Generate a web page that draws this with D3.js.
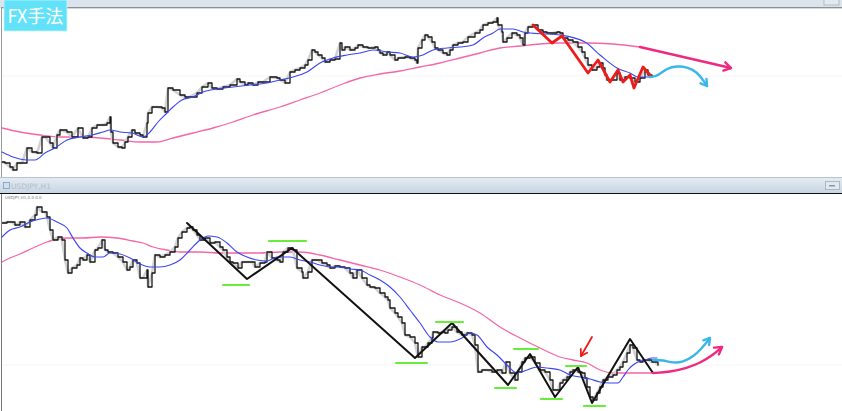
<!DOCTYPE html>
<html><head><meta charset="utf-8">
<script src="https://cdn.jsdelivr.net/npm/d3@7"></script>
<style>html,body{margin:0;padding:0;background:#fff;}svg{display:block;}</style>
</head><body>
<script>
// ===== DATA (x = bar index, value = price units) =====
const topPrice = [[2,38],[5,37],[10,33],[13,30],[17,37],[22,37],[27,52],[32,48],[37,47],[42,63],[45,63],[50,57],[53,52],[57,65],[60,70],[67,68],[72,63],[78,72],[83,62],[88,63],[92,72],[97,75],[103,75],[107,77],[110,83],[111,68],[113,57],[118,53],[122,52],[125,58],[128,63],[132,70],[135,67],[140,65],[143,63],[147,77],[148,87],[152,93],[157,93],[162,92],[165,88],[168,112],[173,110],[180,105],[185,103],[190,103],[197,107],[202,113],[208,117],[212,112],[217,111],[223,113],[230,115],[237,121],[240,118],[245,115],[248,117],[253,115],[258,118],[263,118],[270,123],[277,122],[280,120],[285,117],[290,128],[295,130],[300,132],[305,135],[308,140],[312,150],[315,148],[318,145],[322,142],[325,138],[330,140],[335,141],[340,157],[342,150],[345,153],[350,150],[355,152],[358,155],[363,153],[368,152],[375,153],[378,150],[380,147],[383,145],[387,148],[390,145],[395,140],[398,142],[405,143],[410,142],[415,140],[417,137],[418,152],[422,160],[425,165],[428,163],[432,158],[435,152],[438,150],[443,147],[447,145],[450,150],[453,155],[458,157],[463,158],[468,163],[475,167],[480,170],[483,175],[488,177],[493,178],[497,182],[498,175],[502,168],[503,158],[507,162],[512,167],[517,165],[520,162],[523,155],[525,167],[528,173],[533,175],[538,170],[543,168],[547,167],[552,167],[557,168],[560,167],[563,162],[568,160],[573,158],[578,153],[582,148],[585,142],[588,135],[592,130],[597,133],[600,137],[603,132],[605,125],[607,120],[612,120],[617,127],[620,120],[625,123],[630,122],[635,118],[640,122],[645,130],[648,125],[652,123]];
const topMaFast = [[2,48],[13,43],[27,40],[35,40],[45,47],[55,52],[67,60],[80,63],[92,65],[103,68],[110,70],[120,68],[132,67],[143,63],[150,68],[158,78],[167,87],[173,93],[182,100],[193,103],[203,108],[217,111],[233,113],[250,115],[267,117],[280,120],[293,123],[307,128],[320,137],[333,142],[347,145],[360,147],[373,150],[387,148],[400,147],[413,143],[423,145],[433,150],[447,152],[460,153],[473,155],[483,162],[493,167],[500,171],[513,171],[523,168],[530,167],[547,166],[560,165],[585,158],[600,145],[617,132],[630,127],[638,123],[650,123]];
const topMaSlow = [[2,72],[20,68],[40,65],[60,63],[80,63],[100,62],[120,60],[140,58],[157,58],[173,62],[193,67],[213,72],[233,78],[253,85],[280,93],[300,100],[320,107],[340,115],[360,122],[380,126],[400,129],[420,133],[440,137],[460,142],[480,147],[500,152],[520,154],[540,156],[560,157],[587,157],[613,156],[640,153]];
const topTrendArrow = [[640,153],[731,132]];
const topForecast = [[650,123],[658,124],[667,132],[677,134],[687,133],[697,128],[703,120],[707,114]];
const topZigzag = [[533,175],[552,157],[562,164],[588,127],[598,140],[610,118],[618,130],[623,118],[630,125],[634,112],[643,133],[650,125]];

const botPrice = [[2,197],[7,198],[12,198],[15,195],[20,198],[25,193],[30,200],[35,205],[37,213],[42,208],[45,208],[47,203],[50,190],[53,180],[58,183],[62,180],[65,160],[68,147],[72,152],[77,155],[80,162],[83,160],[87,165],[90,158],[95,170],[98,172],[102,180],[105,170],[108,168],[113,167],[118,163],[123,158],[127,150],[130,153],[133,160],[137,157],[140,142],[143,142],[147,150],[148,133],[152,147],[155,165],[160,163],[165,165],[170,168],[175,173],[178,182],[182,188],[187,192],[190,193],[193,190],[197,185],[200,180],[205,182],[210,177],[215,178],[220,173],[223,170],[227,163],[230,158],[233,157],[238,152],[242,158],[247,158],[252,158],[255,153],[260,157],[265,158],[267,168],[272,162],[277,160],[280,158],[283,168],[288,172],[293,170],[297,152],[302,148],[303,142],[308,148],[312,160],[317,160],[322,157],[327,155],[330,152],[335,154],[340,153],[345,152],[350,147],[353,142],[357,150],[362,142],[367,135],[370,133],[375,132],[380,127],[385,123],[388,120],[390,112],[395,107],[398,103],[402,97],[405,85],[410,83],[415,77],[418,63],[422,73],[425,73],[428,77],[432,82],[433,88],[438,87],[442,88],[445,87],[448,90],[452,93],[457,88],[462,85],[467,87],[472,85],[475,75],[478,48],[482,50],[487,50],[492,48],[497,50],[502,47],[506,58],[510,47],[515,40],[518,48],[522,58],[525,62],[530,63],[535,57],[540,50],[545,48],[550,40],[553,30],[558,30],[560,37],[563,40],[567,43],[570,48],[573,50],[578,48],[582,47],[585,42],[587,33],[590,23],[593,20],[597,27],[600,33],[603,40],[608,43],[613,45],[617,50],[620,53],[623,58],[627,67],[630,75],[633,72],[637,60],[640,58],[643,60],[648,60],[652,58],[655,58],[658,55]];
const botMaFast = [[2,183],[10,190],[20,193],[30,198],[40,201],[47,202],[57,198],[67,192],[73,182],[80,172],[87,167],[95,163],[103,163],[110,167],[120,166],[130,162],[140,156],[150,153],[160,153],[170,155],[180,160],[190,170],[200,180],[208,184],[217,183],[227,177],[237,168],[247,163],[257,160],[267,159],[277,163],[290,163],[300,160],[310,158],[320,155],[330,153],[340,153],[350,151],[360,150],[370,145],[380,140],[390,133],[400,123],[410,110],[420,97],[430,83],[438,78],[450,78],[462,82],[470,87],[477,85],[487,73],[497,65],[507,55],[517,47],[527,50],[537,53],[547,52],[560,50],[570,45],[580,43],[590,41],[600,38],[610,37],[618,37],[623,43],[628,50],[633,55],[638,58],[645,60],[652,62],[657,62]];
const botMaSlow = [[2,158],[10,162],[20,166],[33,172],[47,178],[57,181],[67,182],[83,182],[100,183],[117,182],[133,179],[143,177],[153,173],[167,170],[180,168],[200,168],[220,167],[240,167],[260,167],[280,168],[300,168],[320,165],[340,160],[360,155],[380,150],[400,143],[420,135],[440,125],[460,117],[480,107],[500,93],[520,82],[540,72],[560,63],[573,60],[587,57],[600,50],[613,47],[627,47],[640,47],[653,47]];
const botTrendArrow = [[653,47],[670,48],[687,52],[700,57],[713,65],[722,73]];
const botForecast = [[653,60],[663,60],[673,57],[683,58],[693,63],[702,72],[707,78],[710,82]];
const botZigzag = [[187,197],[247,141],[292,172],[415,62],[452,97],[508,35],[530,66],[555,23],[578,53],[592,17],[630,81],[653,47]];
const botLevels = [[223,249,135],[269,306,179],[396,427,57],[436,463,98],[495,516,32],[514,538,71],[541,562,21],[566,586,54],[584,605,14]];
const botSignal = [[592,83],[581,64]];
const symbol = "USDJPY,H1";
const badge = "FX手法";

// ===== LAYOUT =====
const W = 842, H = 411;
const svg = d3.select("body").append("svg").attr("width", W).attr("height", H);
const defs = svg.append("defs");
const g1 = defs.append("linearGradient").attr("id","bar").attr("x1",0).attr("x2",0).attr("y1",0).attr("y2",1);
g1.append("stop").attr("offset","0%").attr("stop-color","#e6ecf3");
g1.append("stop").attr("offset","100%").attr("stop-color","#c9d5e3");

const x = d3.scaleLinear().domain([0, W]).range([0, W]);
const yTop = d3.scaleLinear().domain([23, 193]).range([177, 7]);
const yBot = d3.scaleLinear().domain([9, 226]).range([411, 194]);

// chrome
svg.append("rect").attr("x",0).attr("y",0).attr("width",W).attr("height",8).attr("fill","#dbe3ec");
svg.append("rect").attr("x",824).attr("y",-2).attr("width",15).attr("height",7).attr("fill","#e4e9ef").attr("stroke","#a7b1bd").attr("stroke-width",0.8);
svg.append("line").attr("x1",2).attr("x2",W).attr("y1",7.5).attr("y2",7.5).attr("stroke","#8f8f8f");
svg.append("line").attr("x1",2).attr("x2",W).attr("y1",8.5).attr("y2",8.5).attr("stroke","#d8d8d8");
svg.append("line").attr("x1",1.5).attr("x2",1.5).attr("y1",7).attr("y2",177).attr("stroke","#9a9a9a");
svg.append("rect").attr("x",0).attr("y",177).attr("width",W).attr("height",16).attr("fill","url(#bar)");
svg.append("line").attr("x1",0).attr("x2",W).attr("y1",177.5).attr("y2",177.5).attr("stroke","#b8c3cf");
svg.append("rect").attr("x",825.5).attr("y",181.5).attr("width",14).attr("height",8).attr("fill","#e2e8ef").attr("stroke","#a2adba").attr("stroke-width",0.8);
svg.append("rect").attr("x",829).attr("y",185).attr("width",6).attr("height",1.5).attr("fill","#8a96a4");
svg.append("line").attr("x1",0).attr("x2",W).attr("y1",193.5).attr("y2",193.5).attr("stroke","#111").attr("stroke-width",1.2);
svg.append("line").attr("x1",1.5).attr("x2",1.5).attr("y1",194).attr("y2",H).attr("stroke","#777");
svg.append("rect").attr("x",3.5).attr("y",182.5).attr("width",6).attr("height",6).attr("fill","#cfe0f3").attr("stroke","#7f9dc0").attr("stroke-width",0.8);
svg.append("text").attr("x",11).attr("y",189).attr("font-family","DejaVu Sans").attr("font-size",7.5).attr("fill","#b3bcc8").text(symbol);
svg.append("text").attr("x",5).attr("y",199).attr("font-family","DejaVu Sans").attr("font-size",4).attr("fill","#777").text(symbol + ",0.0 0.0");

// faint grid lines
svg.append("line").attr("x1",2).attr("x2",W).attr("y1",76).attr("y2",76).attr("stroke","#f5f5f5");
svg.append("line").attr("x1",2).attr("x2",W).attr("y1",365).attr("y2",365).attr("stroke","#f5f5f5");

function drawLine(data, y, color, width, curve) {
  const gen = d3.line().x(d => x(d[0])).y(d => y(d[1])).curve(curve || d3.curveLinear);
  svg.append("path").datum(data).attr("d", gen).attr("fill","none")
    .attr("stroke", color).attr("stroke-width", width)
    .attr("stroke-linejoin","round").attr("stroke-linecap","round");
}
function arrowHead(data, y, color, width, len) {
  const n = data.length;
  const p1 = [x(data[n-2][0]), y(data[n-2][1])], p2 = [x(data[n-1][0]), y(data[n-1][1])];
  const ang = Math.atan2(p2[1]-p1[1], p2[0]-p1[0]);
  const a = 0.55;
  const pts = [
    [p2[0] - len*Math.cos(ang - a), p2[1] - len*Math.sin(ang - a)],
    p2,
    [p2[0] - len*Math.cos(ang + a), p2[1] - len*Math.sin(ang + a)]
  ];
  svg.append("path").attr("d", d3.line()(pts)).attr("fill","none").attr("stroke", color)
    .attr("stroke-width", width).attr("stroke-linejoin","round").attr("stroke-linecap","round");
}

// ===== TOP PANEL =====
drawLine(topMaSlow, yTop, "#f566a8", 1.3, d3.curveMonotoneX);
drawLine(topPrice, yTop, "#d2d2d2", 2.6);
drawLine(topPrice, yTop, "#151515", 1.3, d3.curveStepAfter);
drawLine(topMaFast, yTop, "#3a46f0", 1.1, d3.curveMonotoneX);
drawLine(topZigzag, yTop, "#ee1b1b", 2.8);
drawLine(topTrendArrow, yTop, "#f0287e", 2.4);
arrowHead(topTrendArrow, yTop, "#f0287e", 2.4, 8);
drawLine(topForecast, yTop, "#3ab6ec", 2.4, d3.curveBasis);
arrowHead(topForecast.slice(-3).filter((d,i)=>i!==1), yTop, "#3ab6ec", 2.4, 7);

// ===== BOTTOM PANEL =====
drawLine(botMaSlow, yBot, "#f566a8", 1.3, d3.curveMonotoneX);
drawLine(botPrice, yBot, "#d2d2d2", 2.6);
drawLine(botPrice, yBot, "#151515", 1.3, d3.curveStepAfter);
drawLine(botMaFast, yBot, "#3a46f0", 1.1, d3.curveMonotoneX);
drawLine(botZigzag, yBot, "#111", 2.0);
svg.selectAll(".lvl").data(botLevels).enter().append("line")
  .attr("x1", d => x(d[0])).attr("x2", d => x(d[1]))
  .attr("y1", d => yBot(d[2])).attr("y2", d => yBot(d[2]))
  .attr("stroke", "#66ee3a").attr("stroke-width", 2.2).attr("stroke-linecap","round");
drawLine(botTrendArrow, yBot, "#f0287e", 2.4, d3.curveBasis);
arrowHead(botTrendArrow.slice(-3).filter((d,i)=>i!==1), yBot, "#f0287e", 2.4, 8);
drawLine(botForecast, yBot, "#3ab6ec", 2.4, d3.curveBasis);
arrowHead(botForecast.slice(-3).filter((d,i)=>i!==1), yBot, "#3ab6ec", 2.4, 7);
drawLine(botSignal, yBot, "#ee1b1b", 1.8);
arrowHead(botSignal, yBot, "#ee1b1b", 1.8, 7);

// ===== BADGE =====
svg.append("rect").attr("x",4).attr("y",0).attr("width",63).attr("height",31).attr("fill","#62e2f9").attr("stroke","#c8f4fc").attr("stroke-width",0.8);
svg.append("text").attr("x",35.5).attr("y",22.5).attr("text-anchor","middle")
  .attr("font-family","'Noto Sans CJK JP','Noto Sans'").attr("font-size",18).attr("fill","#fff").text(badge);
</script>
</body></html>
